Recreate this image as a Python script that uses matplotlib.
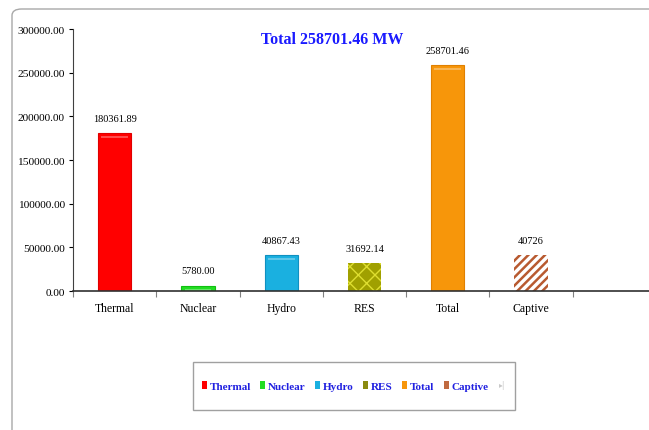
import matplotlib
matplotlib.use("Agg")
import matplotlib.pyplot as plt
from matplotlib.patches import FancyBboxPatch, Patch, Rectangle

categories = ["Thermal", "Nuclear", "Hydro", "RES", "Total", "Captive"]
values = [180361.89, 5780.00, 40867.43, 31692.14, 258701.46, 40726]
value_labels = ["180361.89", "5780.00", "40867.43", "31692.14", "258701.46", "40726"]
yticks = [0, 50000, 100000, 150000, 200000, 250000, 300000]
title = "Total 258701.46 MW"

plt.rcParams['font.family'] = ['Liberation Serif', 'DejaVu Serif']

W, H = 649, 431
fig = plt.figure(figsize=(W/100, H/100), dpi=100)

# outer rounded frame
frame = FancyBboxPatch((12/W, 1 - 440/H), 660/W, 430/H,
                       boxstyle="round,pad=0,rounding_size=0.015",
                       transform=fig.transFigure, fill=False,
                       edgecolor="#a8a8a8", linewidth=1.0, clip_on=False)
fig.patches.append(frame)

left, right = 73, 656
top, bottom = 30, 292
ax = fig.add_axes([left/W, 1 - bottom/H, (right-left)/W, (bottom-top)/H])
ax.patch.set_alpha(0)

facecolors = ["#ff0000", "#22dd22", "#1ab0e0", "#a0a000", "#f7960a", "#ffffff"]
edgecolors = ["#e00000", "#10c010", "#1090c0", "#8a8a00", "#e08000", "#ffffff"]
hatches = [None, None, None, "xx", None, "////"]
hatchcolors = [None, None, None, "#dede30", None, "#b85a30"]
hatchwidths = [1, 1, 1, 1.0, 1, 1.8]
legend_colors = ["#ff0000", "#22dd22", "#1ab0e0", "#8a8a10", "#f7960a", "#c06a40"]

bw = 0.4
for i, v in enumerate(values):
    h = hatches[i]
    with plt.rc_context({"hatch.linewidth": hatchwidths[i],
                         "hatch.color": hatchcolors[i] or "black"}):
        if h:
            ax.bar(i, v, width=bw, color=facecolors[i], edgecolor=hatchcolors[i],
                   linewidth=0, hatch=h)
        else:
            ax.bar(i, v, width=bw, color=facecolors[i], edgecolor=edgecolors[i],
                   linewidth=0.8)
            ax.bar(i, 2500, bottom=v - 5500, width=bw * 0.8,
                   color="white", alpha=0.3, linewidth=0)
    ax.text(i, v + 12000, value_labels[i], ha="center", va="bottom", fontsize=7.5)

ax.set_xlim(-0.5, 6.5)
ax.set_ylim(0, 300000)
ax.set_yticks(yticks)
ax.set_yticklabels([f"{t:.2f}" for t in yticks], fontsize=8.2)
ax.set_xticks([i + 0.5 for i in range(-1, 7)], minor=False)
ax.set_xticklabels([])
ax.set_xticks(list(range(len(categories))), minor=True)
ax.set_xticklabels(categories, minor=True, fontsize=8.5)
ax.tick_params(axis="x", which="minor", length=0, pad=8)
ax.tick_params(axis="x", which="major", length=4, direction="out", color="#808080")
ax.tick_params(axis="y", length=3, direction="out", pad=3)
for s in ["top", "right"]:
    ax.spines[s].set_visible(False)
ax.spines["left"].set_color("#404040")
ax.spines["bottom"].set_color("#303030")
ax.spines["bottom"].set_linewidth(1.2)

fig.text(332/W, 1 - 40/H, title, ha="center", va="center", fontsize=11.5,
         fontweight="bold", color="#1a1aff")

# legend box
lb = Rectangle((193/W, 1 - 411/H), (515-193)/W, (411-363)/H, transform=fig.transFigure,
               fill=True, facecolor="white", edgecolor="#a0a0a0", linewidth=1.0)
fig.patches.append(lb)
handles = [Patch(facecolor=c, edgecolor=c, linewidth=0) for c in legend_colors]
leg = fig.legend(handles, categories, loc="center", bbox_to_anchor=(345/W, 1 - 387/H),
                 ncol=6, frameon=False, handlelength=0.45, handleheight=0.7,
                 handletextpad=0.25, columnspacing=0.85,
                 prop={"weight": "bold", "size": 8})
for t in leg.get_texts():
    t.set_color("#2020e0")
fig.text(502/W, 1 - 386/H, "\u25b8|", ha="center", va="center", fontsize=5.5,
         color="#c8c8c8", family="DejaVu Sans")

fig.savefig("out.png", dpi=100)
